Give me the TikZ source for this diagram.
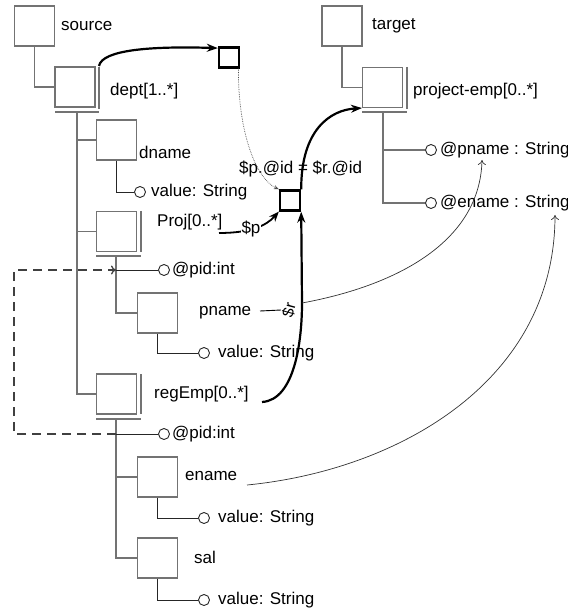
\documentclass[tikz,border=0pt]{standalone}
\usepackage{fontspec}
\setmainfont{Liberation Sans}
\usetikzlibrary{arrows.meta}
\begin{document}
\begin{tikzpicture}[x=1pt,y=-1pt,
  elem/.style={draw=black!55, line width=1.1pt, minimum width=40pt, minimum height=40pt, inner sep=0pt},
  tree/.style={draw=black!55, line width=1.1pt},
  vline/.style={draw=black!85, line width=0.9pt},
  attr/.style={circle, draw=black!85, line width=0.9pt, minimum size=11pt, inner sep=0pt},
  lbl/.style={anchor=west, inner sep=0pt, font=\fontsize{17}{19}\selectfont},
  jbox/.style={draw, line width=2.4pt, minimum size=20pt, inner sep=0pt},
  bigarrow/.style={line width=2.2pt, -{Stealth[length=11pt,width=8pt]}},
  thinarrow/.style={line width=0.7pt, draw=black!80, -{To[length=5pt,width=8pt]}},
  dashline/.style={line width=1.3pt, draw=black!75, dash pattern=on 9pt off 6pt}
]
\useasboundingbox (0,0) rectangle (567,612);

% ---------- source tree ----------
\node[elem] (source) at (34.5,26) {};
\node[lbl] (sourceL) at (61,26) {source};
\node[elem] (dept) at (75,87) {};
\node[lbl] (deptL) at (110,91) {dept[1..*]};
\draw[tree] (source.south) |- (dept.west);
\draw[tree] (99,67) -- (99,109);
\draw[tree] (55,112) -- (99,112);

\node[elem] (dname) at (116.5,140) {};
\node[lbl] (dnameL) at (139,152) {dname};
\node[attr] (dnameV) at (140,192) {};
\node[lbl] (dnameVL) at (151,192) {value: String};
\draw[vline] (dname.south) |- (dnameV.west);

\node[elem] (proj) at (116.5,231.5) {};
\node[lbl] (projL) at (157,222) {Proj[0..*]};
\draw[tree] (141,211) -- (141,252);
\draw[tree] (96,256) -- (141,256);

\node[attr] (pid1) at (164,270) {};
\node[lbl] (pid1L) at (172,270) {@pid:int};

\node[elem] (pname) at (157.5,313) {};
\node[lbl] (pnameL) at (199,313) {pname};
\node[attr] (pnameV) at (204,353) {};
\node[lbl] (pnameVL) at (218,353) {value: String};
\draw[vline] (pname.south) |- (pnameV.west);

\node[elem] (regemp) at (116.5,394) {};
\node[lbl] (regempL) at (154,394) {regEmp[0..*]};
\draw[tree] (141,374) -- (141,414);
\draw[tree] (96,419) -- (141,419);

\node[attr] (pid2) at (164,434) {};
\node[lbl] (pid2L) at (172,434) {@pid:int};

\node[elem] (ename) at (157.5,477) {};
\node[lbl] (enameL) at (185,476) {ename};
\node[attr] (enameV) at (204,518) {};
\node[lbl] (enameVL) at (218,518) {value: String};
\draw[vline] (ename.south) |- (enameV.west);

\node[elem] (sal) at (157.5,558) {};
\node[lbl] (salL) at (194,557) {sal};
\node[attr] (salV) at (204,600) {};
\node[lbl] (salVL) at (218,600) {value: String};
\draw[vline] (sal.south) |- (salV.west);

% trunks
\coordinate (dtrunk) at (77,112);
\draw[tree] (dtrunk) |- (regemp.west);
\draw[tree] (dtrunk |- dname.west) -- (dname.west);
\draw[tree] (dtrunk |- proj.west) -- (proj.west);
\coordinate (ptrunk) at (116,256);
\draw[tree] (ptrunk) |- (pname.west);
\draw[vline] (ptrunk |- pid1.west) -- (pid1.west);
\coordinate (rtrunk) at (116,419);
\draw[tree] (rtrunk) |- (sal.west);
\draw[tree] (rtrunk |- ename.west) -- (ename.west);
\draw[vline] (rtrunk |- pid2.west) -- (pid2.west);

% dashed reference
\draw[dashline, -{To[length=5pt,width=9pt]}] (rtrunk |- pid2.west) -- (14,434) -- (14,270) -- (ptrunk |- pid1.west);

% ---------- target tree ----------
\node[elem] (target) at (342,26) {};
\node[lbl] (targetL) at (372,26) {target};
\node[elem] (pemp) at (382.5,87.5) {};
\node[lbl] (pempL) at (413,91) {project-emp[0..*]};
\draw[tree] (target.south) |- (pemp.west);
\draw[tree] (407,67) -- (407,109);
\draw[tree] (362,112) -- (407,112);
\node[attr] (pnameA) at (431,150) {};
\node[lbl] (pnameAL) at (440,150) {@pname : String};
\node[attr] (enameA) at (431,203) {};
\node[lbl] (enameAL) at (440,203) {@ename : String};
\coordinate (ttrunk) at (383,112);
\draw[tree] (ttrunk) |- (enameA.west);
\draw[tree] (ttrunk |- pnameA.west) -- (pnameA.west);

% ---------- mapping ----------
\node[jbox] (jtop) at (229,57.5) {};
\node[jbox] (jbot) at (290,200.5) {};
\node[lbl] (cond) at (239,169) {\$p.@id = \$r.@id};

\draw[bigarrow] (99,66) .. controls (102,50) and (150,46) .. (jtop.140);
\draw[line width=0.7pt, draw=black!70, densely dotted, -{Stealth[length=5pt,width=4pt]}] (jtop.-50) .. controls (238,130) and (255,178) .. (jbot.north west);

\coordinate (ps) at (219,233);
\draw[line width=1.8pt, -{Stealth[length=10pt,width=8pt]}] (ps) .. controls (250,233) and (266,226) .. (jbot.south west)
  node[pos=0.42, fill=white, inner sep=0.5pt, font=\fontsize{17}{19}\selectfont] (plbl) {\$p};

\coordinate (rs) at (262,402);
\coordinate (rj) at (302,303);
\draw[bigarrow] (rs) .. controls (295,400) and (302,340) .. (rj) -- (jbot.south east);
\coordinate (rl1) at (260,311);
\coordinate (rl2) at (281,310);
\draw[line width=0.9pt] (rl1) -- (rl2);
\node[rotate=75, fill=white, inner sep=0.5pt, font=\fontsize{16}{18}\selectfont] (rlbl) at (289,310) {\$r};

\draw[bigarrow] (jbot.north east) .. controls (301,130) and (330,110) .. (pemp.south west);

\draw[thinarrow] (rj) .. controls (400,285) and (480,240) .. (482,160);
\coordinate (es) at (247,485);
\draw[thinarrow] (es) .. controls (400,470) and (555,380) .. (555,215);
\end{tikzpicture}
\end{document}
